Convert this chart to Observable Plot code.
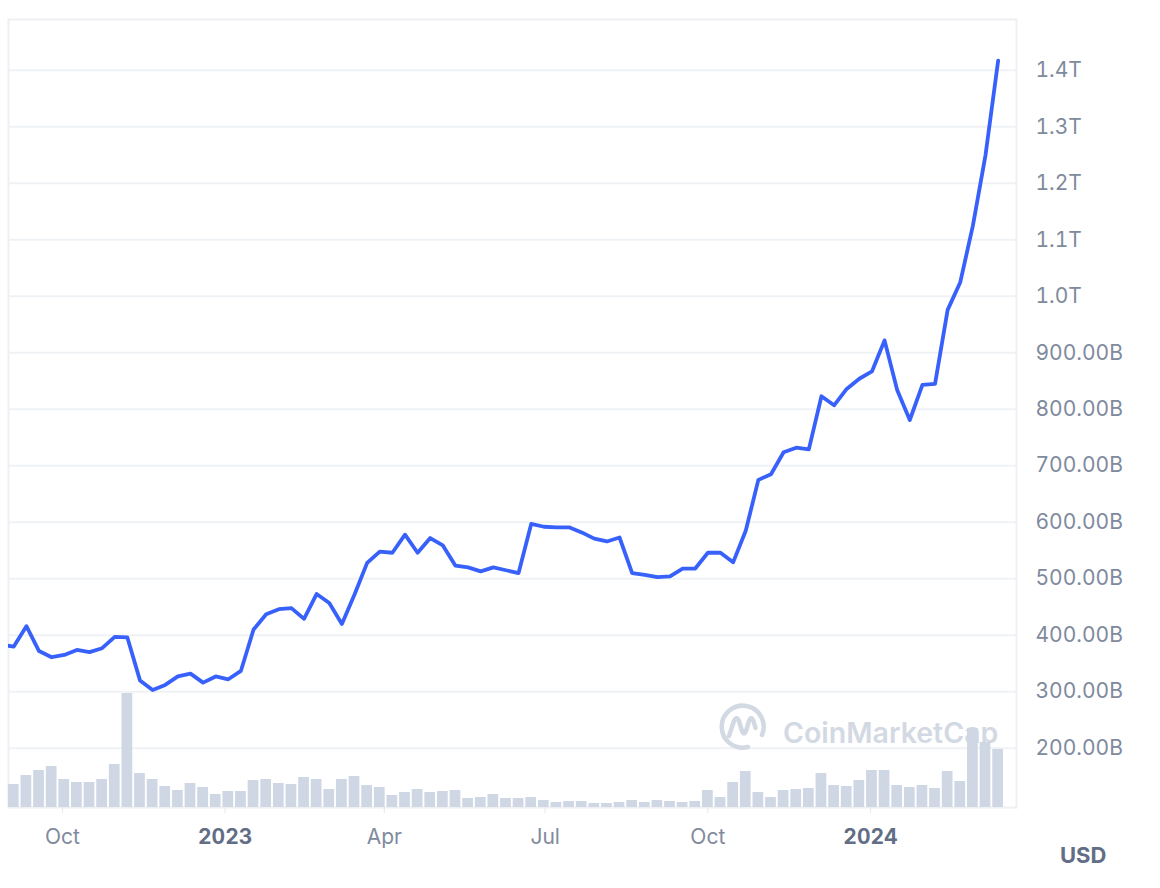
<!DOCTYPE html>
<html>
<head>
<meta charset="utf-8">
<script src="https://cdn.jsdelivr.net/npm/d3@7"></script>
<script src="https://cdn.jsdelivr.net/npm/@observablehq/plot@0.6"></script>
<style>
html, body { margin: 0; padding: 0; background: #ffffff; }
#wrap { position: relative; width: 1160px; height: 888px; font-family: Inter, sans-serif; overflow: hidden; }
#wrap > svg { position: absolute; left: 0; top: 0; }
#usd { position: absolute; left: 1060px; top: 844px; font: 700 22px/22px Inter, sans-serif; color: #616e85; }
</style>
</head>
<body>
<div id="wrap"></div>
<script>
// Market cap (billions USD), roughly weekly samples, Sep 2022 – Mar 2024
const marketCapB = [383, 380, 416, 372, 361, 365, 374, 370, 377, 397,
  396, 320, 303, 312, 327, 332, 316, 327, 322, 337,
  410, 437, 446, 448, 429, 473, 457, 420, 472, 528,
  548, 546, 578, 546, 572, 559, 523, 520, 513, 520,
  515, 510, 597, 592, 591, 591, 582, 571, 566, 573,
  510, 507, 503, 504, 518, 518, 546, 546, 529, 585,
  675, 685, 724, 732, 729, 823, 807, 836, 854, 867,
  922, 834, 781, 843, 845, 976, 1025, 1125, 1250, 1417];

// Volume (relative units), one per sample from the 2nd sample onward
const volume = [23, 32, 37, 41, 28, 25, 25, 28, 43, 114,
  34, 28, 21, 17, 24, 20, 13, 16, 16, 27,
  28, 24, 23, 30, 28, 18, 28, 31, 22, 20,
  12, 15, 18, 15, 16, 17, 9, 10, 13, 9,
  9, 10, 7, 5, 6, 6, 4, 4, 5, 7,
  5, 7, 6, 5, 6, 17, 10, 25, 36, 15,
  10, 17, 18, 19, 34, 22, 21, 27, 37, 37,
  22, 20, 22, 19, 36, 26, 79, 65, 58];

const yTicks = [200, 300, 400, 500, 600, 700, 800, 900, 1000, 1100, 1200, 1300, 1400];
const monthTicks = ["2022-10-01", "2023-04-01", "2023-07-01", "2023-10-01"];
const yearTicks = ["2023-01-01", "2024-01-01"];

const DAY = 864e5;
const OCT1 = Date.UTC(2022, 9, 1);
const firstOffsetDays = -34.69, stepDays = 7.138;
const dates = marketCapB.map((_, i) => new Date(OCT1 + (firstOffsetDays + i * stepDays) * DAY));
const series = marketCapB.map((v, i) => ({date: dates[i], value: v}));
const volRows = volume.map((v, i) => ({date: dates[i + 1], vol: v}));

const xDomain = [new Date(OCT1 - 30.54 * DAY), new Date(OCT1 + 539.6 * DAY)];
const common = {width: 1160, height: 888, marginLeft: 8, marginRight: 144, marginTop: 19, marginBottom: 81};
const fmt = v => v >= 1000 ? (v / 1000).toFixed(1) + "T" : v.toFixed(2) + "B";

const main = Plot.plot({
  ...common,
  style: {fontFamily: "Inter, sans-serif", fontSize: "21px", color: "#808a9d", background: "transparent", overflow: "visible"},
  x: {type: "utc", domain: xDomain, label: null},
  y: {domain: [95, 1490], label: null},
  marks: [
    Plot.ruleY(yTicks, {stroke: "#eff2f5", strokeWidth: 2}),
    Plot.frame({stroke: "#eef0f4", strokeWidth: 2}),
    Plot.axisY({anchor: "right", ticks: yTicks, tickSize: 0, tickPadding: 19, tickFormat: fmt, fill: "#808a9d", label: null}),
    Plot.axisX({ticks: monthTicks.map(d => new Date(d)), tickFormat: d3.utcFormat("%b"), tickSize: 6, tickPadding: 16, stroke: "#e3e6eb", fill: "#808a9d", label: null}),
    Plot.axisX({ticks: yearTicks.map(d => new Date(d)), tickFormat: d3.utcFormat("%Y"), tickSize: 6, tickPadding: 16, stroke: "#e3e6eb", fill: "#616e85", fontWeight: 700, label: null}),
    Plot.line(series, {x: "date", y: "value", stroke: "#3861fb", strokeWidth: 3.8, strokeLinejoin: "round", strokeLinecap: "round", clip: true})
  ]
});

const bars = Plot.plot({
  ...common,
  style: {background: "transparent"},
  x: {type: "utc", domain: xDomain, axis: null},
  y: {domain: [0, 788], axis: null},
  marks: [
    Plot.rectY(volRows, {
      x1: d => new Date(+d.date - 3.03 * DAY),
      x2: d => new Date(+d.date + 3.03 * DAY),
      y: "vol",
      fill: "#cfd6e4"
    })
  ]
});

const wrap = document.getElementById("wrap");
wrap.appendChild(main);

// watermark
const ns = "http://www.w3.org/2000/svg";
const wm = document.createElementNS(ns, "svg");
wm.setAttribute("width", "300");
wm.setAttribute("height", "64");
wm.style.left = "715px";
wm.style.top = "700px";
wm.innerHTML = `
  <g fill="none" stroke="#d3d9e3" stroke-width="4.5" stroke-linecap="round" stroke-linejoin="round">
    <path d="M47 35 A21 21 0 1 0 33 47"/>
    <path d="M14 36 L19 21 Q21.5 15.5 24 21 L27 31 Q29 36 31 31 L34 21 Q36 15.5 38.5 21 L40.5 28"/>
  </g>
  <text x="68" y="43" font-family="Inter, sans-serif" font-weight="600" font-size="28.5" fill="#d3d9e3">CoinMarketCap</text>`;
wrap.appendChild(wm);

wrap.appendChild(bars);

const usd = document.createElement("div");
usd.id = "usd";
usd.textContent = "USD";
wrap.appendChild(usd);
</script>
</body>
</html>
